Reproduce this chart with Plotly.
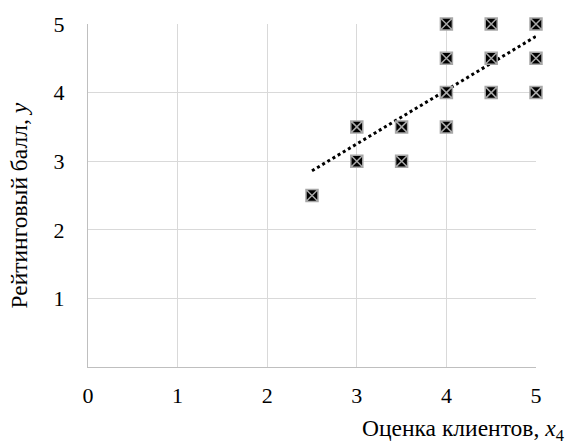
import plotly.graph_objects as go

x_vals = [2.5, 3, 3, 3.5, 3.5, 4, 4, 4, 4, 4.5, 4.5, 4.5, 5, 5, 5]
y_vals = [2.5, 3, 3.5, 3, 3.5, 3.5, 4, 4.5, 5, 4, 4.5, 5, 4, 4.5, 5]
trend_x = [2.5, 5]
trend_y = [2.86, 4.82]
x_ticks = [0, 1, 2, 3, 4, 5]
y_ticks = [1, 2, 3, 4, 5]

font = "Times New Roman, Liberation Serif, DejaVu Serif, serif"

fig = go.Figure()
fig.add_trace(go.Scatter(x=trend_x, y=trend_y, mode="lines",
                         line=dict(color="black", width=3, dash="dot"),
                         hoverinfo="skip", cliponaxis=False))
fig.add_trace(go.Scatter(x=x_vals, y=y_vals, mode="markers", cliponaxis=False,
                         marker=dict(symbol="square-x", size=12, color="black",
                                     line=dict(color="#a8a8a8", width=1.5))))

fig.update_layout(
    width=566, height=445,
    margin=dict(l=88, r=30, t=18, b=78),
    paper_bgcolor="white", plot_bgcolor="white",
    showlegend=False,
    font=dict(family=font, size=22, color="black"),
    xaxis=dict(range=[0, 5], tickvals=x_ticks, showgrid=True, gridcolor="#d9d9d9",
               gridwidth=1.3, zeroline=False, showline=True, linecolor="#bfbfbf",
               linewidth=1.3, ticks="", ticklabelstandoff=8,
               tickfont=dict(family=font, size=22)),
    yaxis=dict(range=[0, 5], tickvals=y_ticks, showgrid=True, gridcolor="#d9d9d9",
               gridwidth=1.3, zeroline=False, showline=True, linecolor="#bfbfbf",
               linewidth=1.3, ticks="", ticklabelstandoff=18,
               tickfont=dict(family=font, size=22)),
    annotations=[
        dict(text="Оценка клиентов, <i>x</i><sub>4</sub>", xref="paper", yref="paper",
             x=1.0, y=0, xanchor="right", yanchor="middle", yshift=-63, xshift=30,
             showarrow=False, font=dict(family=font, size=23.5)),
        dict(text="Рейтинговый балл, <i>y</i>", xref="paper", yref="paper",
             x=0, y=0.5, xanchor="center", yanchor="middle", xshift=-70, yshift=-10,
             textangle=-90, showarrow=False, font=dict(family=font, size=23.5)),
    ],
)

fig.write_html("out.html")
